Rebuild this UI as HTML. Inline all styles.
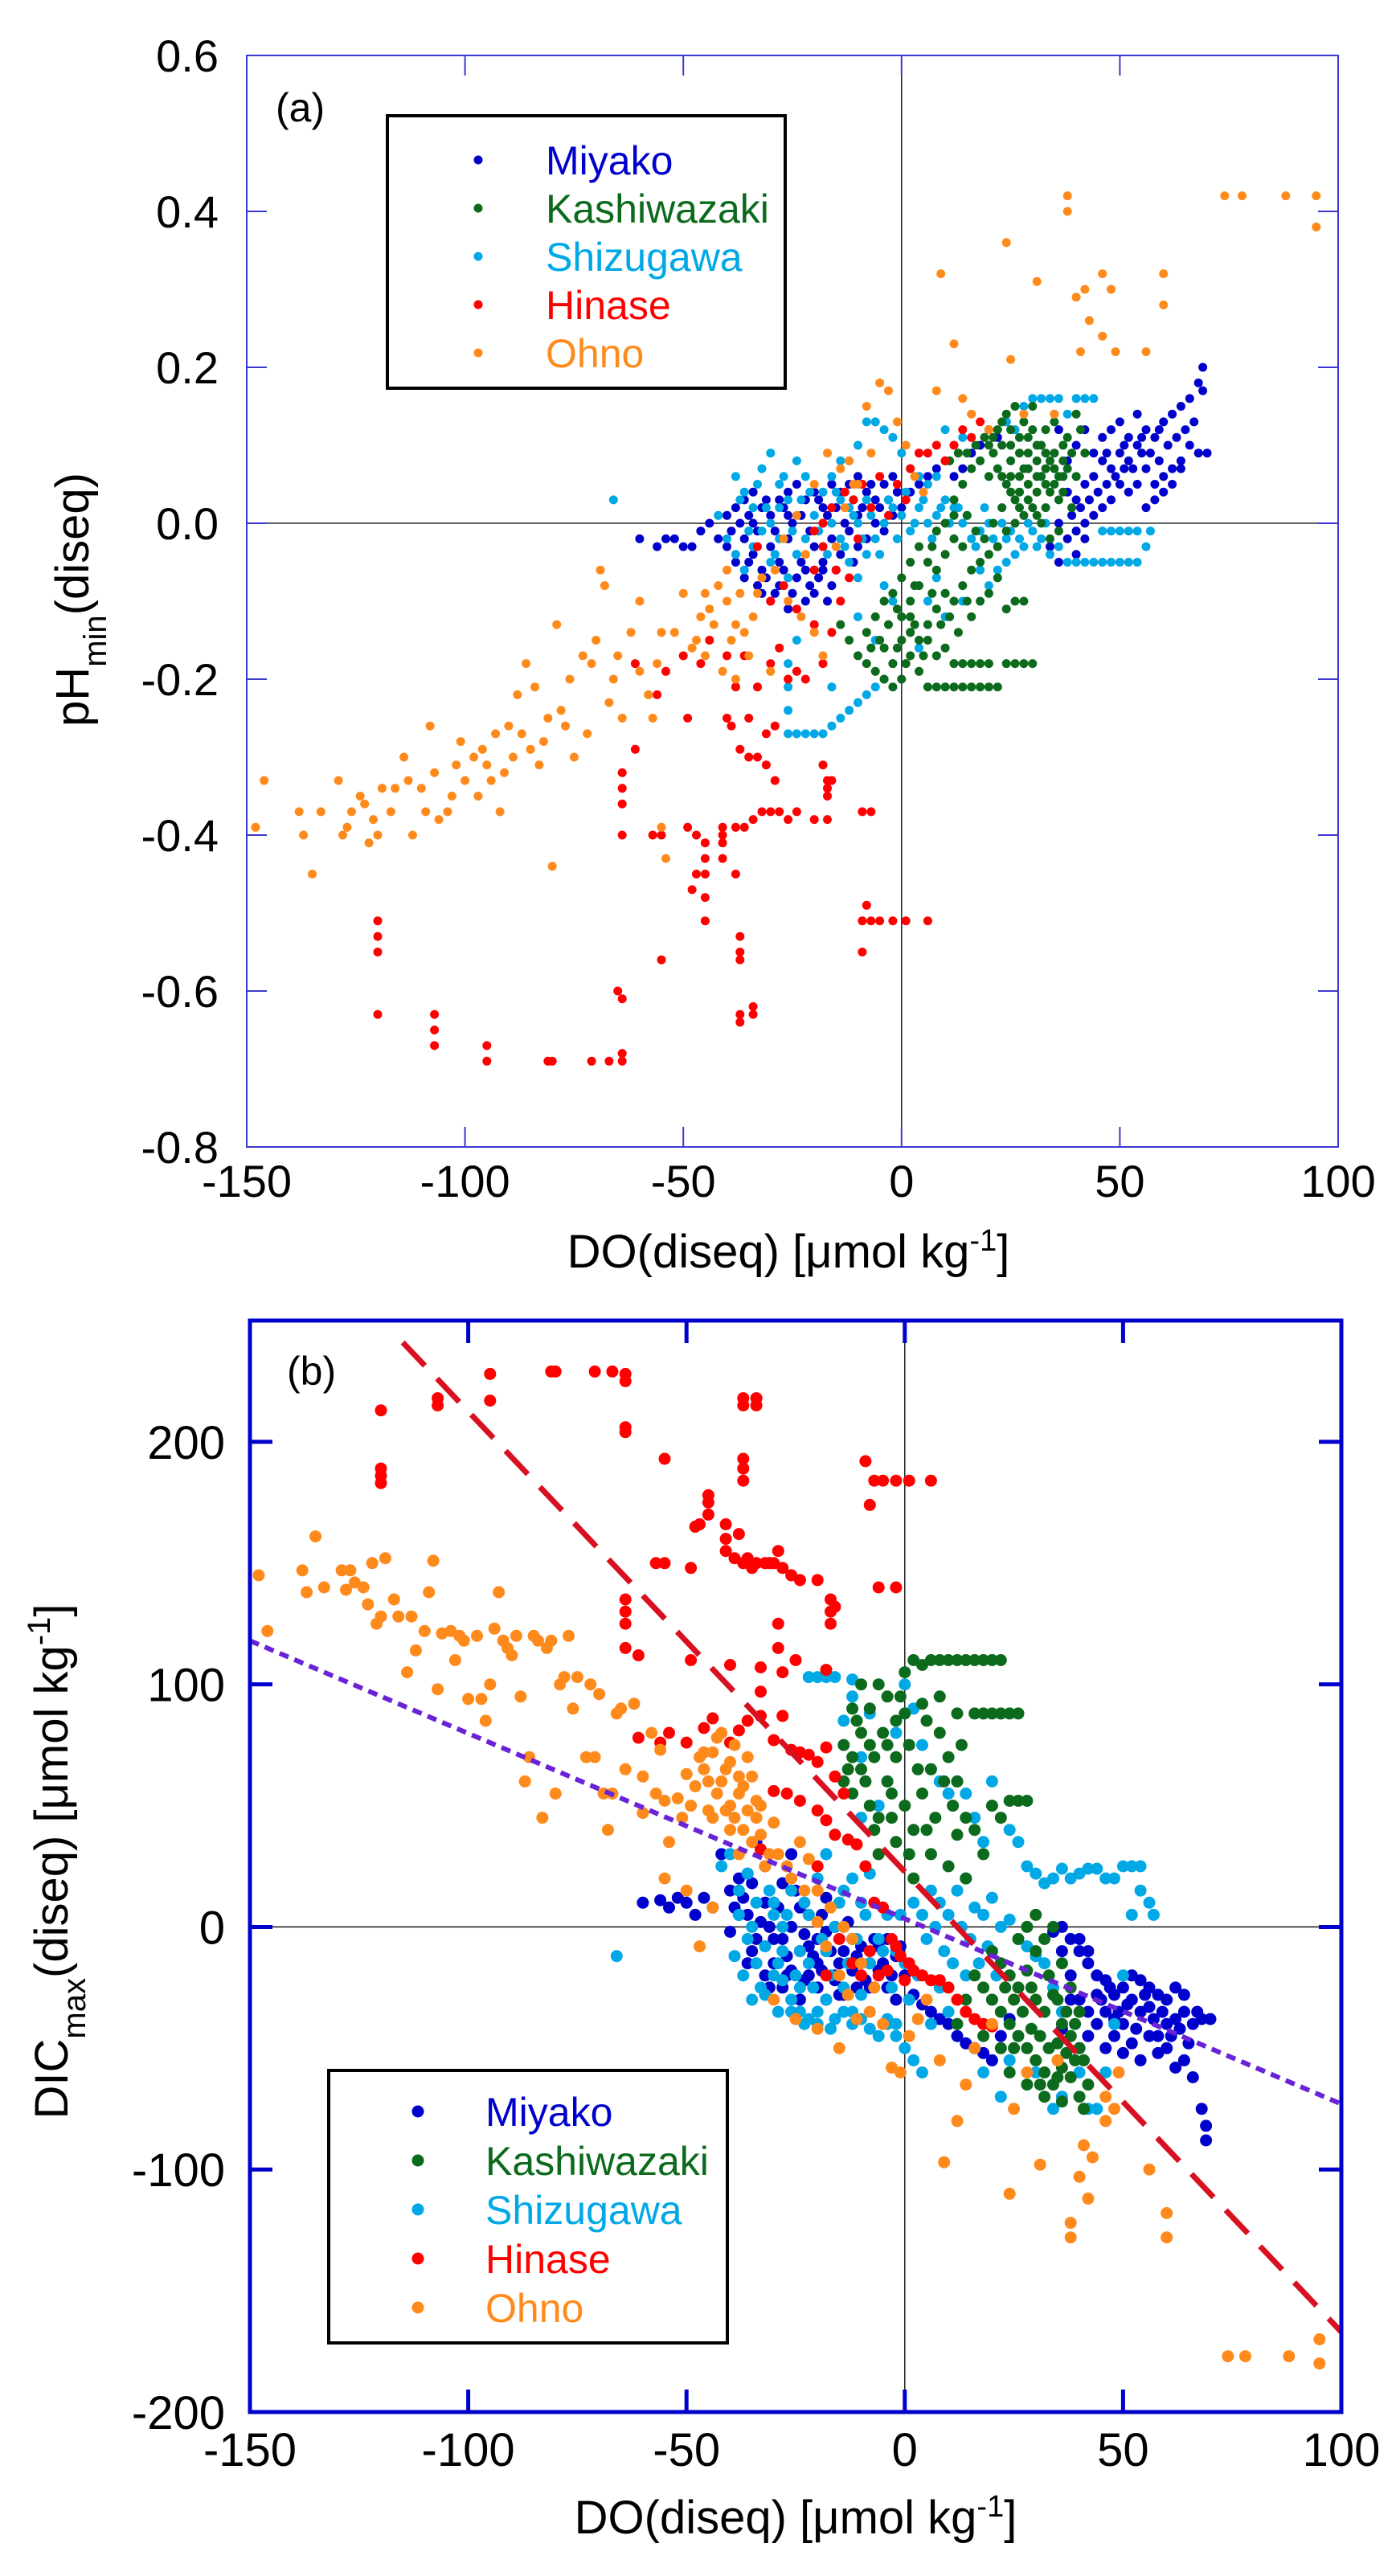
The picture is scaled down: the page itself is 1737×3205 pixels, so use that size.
<!DOCTYPE html>
<html><head><meta charset="utf-8"><style>
html,body{margin:0;padding:0;background:#fff;}
svg{display:block;font-family:"Liberation Sans",Arial,sans-serif;}
</style></head><body>
<svg id="fig" width="1737" height="3205" viewBox="0 0 1737 3205" xmlns="http://www.w3.org/2000/svg"></svg>
<script>
// ---------- Panel (a) data: [DO, pHmin] ----------
const aMiyako=[[-60,-0.02],[-56,-0.03],[-54,-0.02],[-52,-0.02],[-50,-0.03],[-48,-0.03],[-46,-0.01],[-44,0.00],[-42,-0.02],[-40,0.01],[-38,0.02],[-36,0.03],[-34,0.04],[-32,0.02],[-30,0.01],[-28,0.03],[-26,0.04],[-24,0.05],[-22,0.03],[-20,0.04],[-18,0.02],[-16,0.05],[-14,0.04],[-12,0.05],[-10,0.06],[-8,0.04],[-6,0.03],[-4,0.05],[-2,0.06],[-40,-0.03],[-38,-0.05],[-36,-0.02],[-34,-0.04],[-32,-0.06],[-30,-0.03],[-28,-0.05],[-26,-0.02],[-24,-0.04],[-22,-0.06],[-20,-0.03],[-18,-0.05],[-16,-0.02],[-14,-0.04],[-12,-0.01],[-10,-0.03],[-8,-0.02],[-6,0.00],[-4,-0.01],[-2,0.01],[0,0.02],[-36,-0.07],[-32,-0.09],[-28,-0.08],[-24,-0.07],[-20,-0.09],[-16,-0.08],[-30,-0.10],[-26,-0.11],[-22,-0.10],[-18,-0.06],[-34,0.00],[-26,0.01],[-18,0.00],[-10,0.01],[2,0.04],[4,0.05],[6,0.06],[8,0.07],[10,0.08],[12,0.06],[14,0.07],[16,0.09],[18,0.10],[20,0.12],[22,0.11],[24,0.13],[38,0.04],[40,0.03],[42,0.05],[44,0.06],[46,0.08],[48,0.07],[50,0.09],[52,0.08],[54,0.10],[56,0.12],[58,0.11],[60,0.13],[62,0.14],[64,0.15],[66,0.16],[68,0.18],[69,0.20],[69,0.17],[70,0.09],[68,0.09],[66,0.10],[64,0.08],[62,0.07],[60,0.06],[58,0.05],[56,0.07],[54,0.05],[52,0.04],[50,0.05],[48,0.03],[46,0.02],[44,0.01],[42,0.00],[40,-0.01],[38,-0.02],[36,0.00],[44,0.09],[46,0.11],[48,0.12],[50,0.13],[52,0.11],[54,0.14],[42,0.12],[40,0.10],[38,0.08],[36,0.12],[56,0.02],[58,0.03],[60,0.04],[62,0.05],[64,0.07],[40,-0.04],[42,-0.02],[36,-0.05],[34,-0.03],
[-39,-0.01],[-37,0.00],[-35,0.01],[-33,-0.01],[-31,0.03],[-29,-0.01],[-27,0.02],[-25,0.00],[-23,0.01],[-21,-0.01],[-19,0.03],[-17,0.01],[-15,0.02],[-13,0.00],[-11,0.03],[-9,0.02],[-7,0.05],[-5,0.02],[-3,0.03],[-1,0.04],[-35,-0.05],[-31,-0.07],[-27,-0.06],[-23,-0.05],[-19,-0.07],[-15,-0.06],[-11,-0.05],[-33,-0.08],[-29,-0.09],[-25,-0.09],[-21,-0.08],[-17,-0.10],[45,0.04],[47,0.05],[49,0.06],[51,0.07],[53,0.07],[55,0.09],[57,0.09],[59,0.08],[61,0.10],[63,0.11],[65,0.12],[67,0.13],[43,0.03],[41,0.02],[39,0.01],[47,0.09],[51,0.10],[55,0.11],[59,0.12]];
const aKashiwazaki=[[20,0.10],[22,0.12],[24,0.14],[26,0.15],[28,0.13],[30,0.12],[32,0.10],[34,0.08],[36,0.06],[38,0.11],[40,0.14],[41,0.12],[42,0.09],[25,0.08],[27,0.06],[29,0.05],[31,0.04],[33,0.07],[35,0.09],[37,0.04],[39,0.02],[26,0.03],[28,0.01],[30,0.02],[32,0.00],[34,-0.02],[36,-0.01],[24,0.05],[22,0.07],[20,0.06],[18,0.08],[16,0.07],[14,0.05],[12,0.03],[23,0.02],[21,0.00],[19,-0.02],[17,-0.01],[15,0.01],[27,0.11],[29,0.09],[31,0.08],[33,0.12],[35,0.13],[37,0.10],[30,0.15],[40,0.06],[38,0.07],[36,0.03],[25,0.12],[23,0.10],[21,0.09],[19,0.11],[17,0.10],[15,0.09],[13,0.09],[11,0.08],[28,0.07],[32,0.06],[34,0.04],[26,0.00],[24,-0.01],[22,-0.03],[20,-0.04],[18,-0.05],[16,-0.06],[-8,-0.14],[-6,-0.12],[-4,-0.16],[-2,-0.18],[0,-0.20],[2,-0.17],[4,-0.15],[6,-0.13],[8,-0.11],[10,-0.09],[12,-0.10],[14,-0.08],[16,-0.12],[18,-0.10],[20,-0.09],[22,-0.07],[24,-0.11],[26,-0.10],[28,-0.10],[-10,-0.17],[-12,-0.15],[-14,-0.13],[-6,-0.19],[-4,-0.20],[-2,-0.21],[0,-0.15],[2,-0.12],[4,-0.19],[6,-0.21],[8,-0.21],[10,-0.21],[12,-0.21],[14,-0.21],[16,-0.21],[18,-0.21],[20,-0.21],[22,-0.21],[24,-0.18],[26,-0.18],[28,-0.18],[30,-0.18],[12,-0.18],[14,-0.18],[16,-0.18],[18,-0.18],[20,-0.18],[10,-0.16],[8,-0.17],[6,-0.05],[8,-0.06],[4,-0.08],[2,-0.10],[0,-0.07],[-2,-0.09],[-4,-0.10],[10,-0.04],[12,-0.02],[14,-0.03],[6,-0.15],[2,-0.14],[-8,-0.18],[0,-0.12],[4,-0.03],[8,-0.01],[10,0.00],[12,0.01],[2,-0.05],
[21,0.11],[23,0.13],[25,0.10],[27,0.09],[29,0.11],[31,0.10],[33,0.09],[35,0.07],[37,0.08],[39,0.09],[25,0.06],[27,0.04],[29,0.07],[31,0.06],[33,0.05],[35,0.05],[37,0.06],[29,0.03],[31,0.01],[33,0.02],[27,0.02],[25,0.04],[23,0.06],[-5,-0.15],[-3,-0.13],[-1,-0.16],[1,-0.18],[3,-0.13],[5,-0.17],[7,-0.09],[9,-0.13],[11,-0.12],[13,-0.14],[15,-0.10],[-7,-0.16],[-1,-0.11],[3,-0.08],[7,-0.03]];
const aShizugawa=[[-66,0.03],[-42,0.01],[-40,-0.02],[-38,0.06],[-36,0.04],[-34,0.02],[-32,0.07],[-30,0.09],[-28,0.05],[-26,0.03],[-24,0.08],[-22,0.06],[-20,0.01],[-38,-0.04],[-36,-0.06],[-34,-0.03],[-32,-0.01],[-30,-0.05],[-28,-0.02],[-26,-0.07],[-24,-0.04],[-22,-0.02],[-20,-0.06],[-18,-0.03],[-16,0.00],[-14,-0.02],[-12,-0.05],[-10,-0.07],[-8,-0.04],[-6,-0.02],[-4,0.00],[-2,0.02],[0,0.01],[2,-0.01],[4,0.02],[6,0.00],[8,0.01],[10,0.03],[12,0.02],[14,0.00],[16,-0.02],[18,-0.01],[20,0.00],[22,-0.03],[24,-0.02],[26,-0.04],[28,-0.03],[30,-0.01],[32,-0.02],[34,-0.04],[36,-0.03],[38,-0.05],[40,-0.05],[42,-0.05],[44,-0.05],[46,-0.05],[48,-0.05],[50,-0.05],[52,-0.05],[54,-0.05],[56,-0.03],[57,-0.01],[46,-0.01],[48,-0.01],[50,-0.01],[52,-0.01],[54,-0.01],[-6,0.13],[-4,0.12],[-2,0.11],[0,0.09],[2,0.07],[4,0.06],[-10,0.10],[-14,0.08],[-8,0.13],[-12,0.08],[10,0.12],[12,0.10],[14,0.11],[28,0.15],[30,0.16],[32,0.16],[34,0.16],[36,0.16],[38,0.14],[40,0.16],[42,0.16],[44,0.16],[24,0.13],[26,0.12],[-4,-0.08],[-2,-0.10],[0,-0.12],[2,-0.14],[4,-0.16],[-2,-0.18],[-4,-0.20],[-6,-0.21],[-8,-0.22],[-10,-0.23],[-12,-0.24],[-14,-0.25],[-16,-0.26],[-18,-0.27],[-20,-0.27],[-22,-0.27],[-24,-0.27],[-26,-0.27],[-26,-0.24],[-26,-0.21],[-26,-0.18],[-24,-0.15],[-16,-0.21],[-10,-0.12],[-6,-0.15],[6,-0.10],[8,-0.07],[10,-0.12],[14,-0.10],[18,-0.06],[20,-0.08],[22,-0.06],[24,-0.05],[-28,0.02],[-30,0.00],[-18,0.04],[-16,0.06],[-14,0.03],[-12,0.02],[-10,0.00],[-8,0.03],[6,0.05],[8,0.06],
[-37,0.03],[-35,-0.01],[-33,0.05],[-31,0.02],[-29,-0.04],[-27,0.06],[-25,-0.01],[-23,0.03],[-21,0.04],[-19,-0.01],[-17,-0.04],[-15,0.04],[-13,-0.03],[-11,0.01],[-9,-0.02],[-7,0.01],[-5,-0.04],[-3,0.03],[-1,-0.02],[1,0.04],[3,0.00],[5,0.03],[7,-0.02],[9,0.02],[11,0.00],[13,0.02],[15,0.01],[17,-0.03],[19,0.02],[21,-0.02],[23,0.00],[25,-0.01],[27,-0.02],[29,0.00],[31,-0.03],[33,0.00]];
const aHinase=[[-120,-0.51],[-120,-0.53],[-120,-0.55],[-120,-0.63],[-107,-0.63],[-107,-0.65],[-107,-0.67],[-95,-0.67],[-95,-0.69],[-81,-0.69],[-80,-0.69],[-71,-0.69],[-67,-0.69],[-64,-0.68],[-64,-0.69],[-65,-0.60],[-64,-0.61],[-55,-0.56],[-48,-0.47],[-47,-0.45],[-45,-0.45],[-45,-0.48],[-45,-0.51],[-45,-0.43],[-37,-0.53],[-37,-0.55],[-37,-0.56],[-37,-0.63],[-37,-0.64],[-34,-0.63],[-34,-0.62],[-41,-0.43],[-41,-0.41],[-41,-0.40],[-41,-0.39],[-38,-0.45],[-38,-0.39],[-36,-0.39],[-34,-0.38],[-32,-0.37],[-30,-0.37],[-28,-0.37],[-26,-0.38],[-24,-0.37],[-20,-0.38],[-17,-0.38],[-9,-0.37],[-7,-0.37],[-8,-0.49],[-9,-0.51],[-7,-0.51],[-5,-0.51],[-2,-0.51],[1,-0.51],[6,-0.51],[-9,-0.55],[-64,-0.32],[-64,-0.34],[-64,-0.36],[-64,-0.40],[-61,-0.29],[-57,-0.40],[-55,-0.40],[-49,-0.39],[-47,-0.40],[-45,-0.41],[-39,-0.26],[-37,-0.29],[-35,-0.30],[-33,-0.30],[-31,-0.31],[-31,-0.27],[-29,-0.26],[-35,-0.25],[-40,-0.25],[-49,-0.25],[-29,-0.33],[-18,-0.31],[-17,-0.33],[-17,-0.34],[-17,-0.35],[-16,-0.33],[-61,-0.18],[-56,-0.22],[-54,-0.19],[-50,-0.17],[-46,-0.18],[-44,-0.15],[-40,-0.17],[-38,-0.21],[-36,-0.17],[-33,-0.21],[-30,-0.18],[-28,-0.16],[-26,-0.20],[-24,-0.19],[-22,-0.20],[-20,-0.13],[-18,-0.18],[-16,-0.14],[-14,-0.10],[-30,-0.10],[-27,-0.08],[-24,-0.11],[-20,-0.06],[-18,-0.03],[-16,0.02],[-13,0.04],[-11,0.03],[-9,0.05],[-7,0.02],[-5,0.06],[-3,0.01],[-1,0.05],[1,0.03],[2,0.07],[4,0.09],[6,0.09],[8,0.10],[10,0.08],[12,0.10],[14,0.12],[16,0.11],[18,0.13],[20,0.12],[-18,0.00],[-15,-0.06],[-12,-0.07],[-10,-0.02],[-33,-0.03],[-20,-0.01]];
const aOhno=[[-148,-0.39],[-146,-0.33],[-138,-0.37],[-137,-0.40],[-135,-0.45],[-133,-0.37],[-129,-0.33],[-128,-0.40],[-126,-0.37],[-124,-0.35],[-122,-0.41],[-120,-0.40],[-119,-0.34],[-116,-0.34],[-114,-0.30],[-112,-0.40],[-110,-0.34],[-108,-0.26],[-107,-0.32],[-106,-0.38],[-104,-0.37],[-101,-0.28],[-100,-0.33],[-98,-0.30],[-96,-0.29],[-94,-0.33],[-92,-0.37],[-90,-0.26],[-88,-0.22],[-86,-0.18],[-85,-0.29],[-83,-0.31],[-81,-0.25],[-80,-0.44],[-79,-0.13],[-77,-0.26],[-75,-0.30],[-73,-0.17],[-70,-0.15],[-69,-0.06],[-68,-0.08],[-66,-0.20],[-64,-0.25],[-62,-0.14],[-60,-0.10],[-58,-0.22],[-56,-0.18],[-55,-0.39],[-54,-0.43],[-52,-0.14],[-50,-0.09],[-48,-0.16],[-46,-0.12],[-44,-0.11],[-42,-0.08],[-40,-0.10],[-38,-0.13],[-36,-0.14],[-34,-0.12],[-33,-0.09],[-30,-0.19],[-29,-0.06],[-27,-0.02],[-24,0.01],[-22,-0.04],[-20,0.05],[-17,0.09],[-14,0.07],[-12,0.08],[-10,0.05],[-8,0.15],[-7,0.09],[-5,0.18],[-3,0.17],[-1,0.13],[1,0.10],[3,0.06],[5,0.04],[8,0.17],[9,0.32],[12,0.23],[14,0.16],[16,0.14],[20,0.12],[24,0.36],[25,0.21],[28,0.14],[31,0.31],[35,0.14],[38,0.40],[38,0.42],[40,0.29],[41,0.22],[42,0.30],[43,0.26],[46,0.32],[46,0.24],[48,0.30],[49,0.22],[56,0.22],[60,0.32],[60,0.28],[74,0.42],[78,0.42],[88,0.42],[95,0.42],[95,0.38],[-47,-0.15],[-45,-0.17],[-43,-0.13],[-41,-0.19],[-39,-0.15],[-37,-0.09],[-35,-0.17],[-45,-0.09],[-40,-0.06],[-38,-0.20],[-32,-0.07],[-26,-0.10],[-23,-0.12],[-20,-0.14],[-18,-0.17],[-15,-0.03],[-13,0.02],[-11,0.05],[-55,-0.14],[-57,-0.25],[-60,-0.19],[-65,-0.17],[-67,-0.23],[-71,-0.18],[-72,-0.27],[-76,-0.20],[-78,-0.24],[-82,-0.28],[-84,-0.21],[-87,-0.27],[-89,-0.30],[-91,-0.32],[-93,-0.27],[-95,-0.31],[-97,-0.35],[-102,-0.31],[-103,-0.35],[-109,-0.37],[-113,-0.33],[-117,-0.37],[-121,-0.38],[-123,-0.36],[-127,-0.39]];
// ---------- Panel (b) data: [DO, DICmax] ----------
const bMiyako=[[-60,10],[-56,11],[-54,8],[-52,12],[-50,10],[-48,5],[-46,12],[-44,8],[-42,30],[-40,15],[-38,20],[-36,5],[-34,-5],[-32,10],[-30,-15],[-28,-5],[-26,0],[-24,-10],[-22,5],[-20,-15],[-18,-2],[-16,-20],[-14,-10],[-12,-5],[-10,-20],[-8,-15],[-6,-8],[-4,-25],[-2,-12],[-40,-2],[-38,5],[-36,22],[-34,35],[-32,25],[-30,10],[-28,18],[-26,30],[-24,8],[-22,-20],[-20,-5],[-18,12],[-16,0],[-14,-28],[-12,-18],[-10,-8],[-8,-25],[-6,-18],[-4,-5],[-2,-30],[0,-20],[-36,-15],[-32,-20],[-28,-25],[-24,-30],[-20,-25],[-16,-22],[-30,-5],[-26,-18],[-22,-8],[-18,-30],[2,-28],[4,-32],[6,-35],[8,-38],[10,-40],[12,-45],[14,-48],[16,-50],[18,-52],[20,-55],[22,-45],[24,-38],[38,-5],[40,-10],[42,-15],[44,-20],[46,-22],[48,-28],[50,-25],[52,-30],[54,-35],[56,-33],[58,-28],[60,-40],[62,-38],[64,-35],[66,-40],[68,-38],[69,-88],[69,-82],[70,-38],[68,-75],[66,-62],[64,-55],[62,-58],[60,-50],[58,-52],[56,-45],[54,-55],[52,-48],[50,-52],[48,-45],[46,-50],[44,-40],[42,-35],[40,-30],[38,-20],[36,-10],[44,-28],[46,-35],[48,-38],[50,-40],[52,-20],[54,-22],[42,-45],[40,-50],[38,-30],[36,-42],[56,-25],[58,-45],[60,-30],[62,-25],[64,-28],[40,-5],[42,-10],[36,0],[34,-2],
[-39,8],[-37,12],[-35,18],[-33,2],[-31,0],[-29,8],[-27,-12],[-25,15],[-23,-3],[-21,-12],[-19,5],[-17,-10],[-15,-15],[-13,2],[-11,-12],[-9,-22],[-7,-5],[-5,-15],[-3,-20],[-1,-8],[-35,-10],[-31,-25],[-27,-20],[-23,-22],[-19,-18],[-15,-28],[-11,-25],[45,-30],[47,-25],[49,-35],[51,-32],[53,-42],[55,-28],[57,-38],[59,-35],[61,-45],[63,-42],[65,-48],[67,-35]];
const bKashiwazaki=[[-14,75],[-12,70],[-10,80],[-8,90],[-6,100],[-4,95],[-2,85],[0,105],[2,110],[4,108],[6,110],[8,110],[10,110],[12,110],[14,110],[16,110],[18,110],[20,110],[22,110],[-14,60],[-12,55],[-10,65],[-8,50],[-6,45],[-4,60],[-2,70],[0,50],[2,40],[4,55],[6,65],[8,80],[10,70],[12,60],[14,45],[16,40],[18,30],[20,50],[22,45],[24,52],[26,52],[28,52],[-4,75],[0,88],[4,92],[8,95],[12,88],[16,88],[18,88],[20,88],[22,88],[24,88],[26,88],[-10,100],[-8,75],[-12,90],[6,30],[10,25],[14,20],[12,38],[2,20],[-2,35],[-6,30],[20,-10],[22,-15],[24,-20],[26,-25],[28,-18],[30,-30],[32,-35],[34,-28],[36,-40],[38,-45],[40,-50],[41,-55],[42,-65],[24,-40],[26,-45],[28,-50],[30,-55],[32,-60],[34,-65],[36,-58],[38,-62],[40,-70],[41,-75],[20,-30],[22,-35],[30,-10],[32,-5],[34,0],[36,-15],[38,-25],[40,-35],[26,-5],[28,0],[30,5],[16,-20],[18,-25],[14,-30],[24,-60],[28,-65],[32,-70],[36,-72],[12,-40],[18,-45],[22,-50],
[-13,65],[-11,85],[-9,60],[-7,70],[-5,80],[-3,55],[-1,95],[1,75],[3,65],[5,85],[7,45],[9,60],[11,50],[13,75],[-7,40],[-3,45],[1,30],[5,40],[25,-30],[27,-35],[29,-42],[31,-45],[33,-50],[35,-48],[37,-52],[39,-40],[23,-25],[25,-50],[29,-25],[33,-20],[35,-30],[37,-35],[31,-65],[35,-62],[39,-55]];
const bShizugawa=[[-66,-12],[-42,25],[-40,30],[-38,5],[-36,-5],[-34,10],[-32,-8],[-30,-20],[-28,0],[-26,15],[-24,-10],[-22,5],[-20,20],[-38,15],[-36,22],[-34,-15],[-32,-28],[-30,5],[-28,-22],[-26,-35],[-24,-25],[-22,-15],[-20,-35],[-18,-10],[-16,0],[-14,-25],[-12,-35],[-10,-28],[-8,-15],[-6,-5],[-4,5],[-2,-10],[0,-15],[2,10],[4,5],[6,15],[8,10],[10,5],[12,15],[14,20],[16,8],[18,5],[20,12],[22,0],[24,3],[26,-5],[28,-8],[30,-12],[32,-15],[34,-25],[36,-35],[38,-45],[40,-60],[42,-75],[44,-75],[46,-60],[48,-40],[50,-20],[52,5],[54,15],[56,10],[57,5],[46,20],[48,20],[50,25],[52,25],[54,25],[-6,50],[-4,60],[-2,80],[0,100],[2,90],[4,75],[-10,70],[-14,85],[-8,88],[-12,95],[10,55],[12,60],[14,55],[28,25],[30,22],[32,18],[34,20],[36,24],[38,20],[40,22],[42,24],[44,24],[24,40],[26,35],[-4,-40],[-2,-45],[0,-50],[2,-55],[4,-60],[-2,-40],[-4,-38],[-6,-45],[-8,-42],[-10,-38],[-12,-40],[-14,-35],[-16,-38],[-18,-30],[-20,-40],[-22,-38],[-24,-35],[-26,-30],[-16,103],[-18,103],[-20,103],[-22,103],[-12,102],[-10,45],[6,-40],[8,-25],[10,-35],[14,-20],[18,-60],[20,-30],[22,-70],[24,-55],[-28,-10],[-30,10],[-18,30],[-16,38],[-14,15],[-12,20],[-10,10],[-8,22],[6,65],[8,60],[30,-60],[34,-75],[36,-70],[20,60],[16,45],[18,35],
[-37,-20],[-35,0],[-33,-25],[-31,15],[-29,-15],[-27,5],[-25,-20],[-23,10],[-21,-25],[-19,-5],[-17,-20],[-15,10],[-13,-15],[-11,-5],[-9,5],[-7,-25],[-5,-10],[-3,-25],[-1,5],[1,-30],[3,-20],[5,-5],[7,0],[9,-10],[11,-15],[13,0],[15,-5],[17,-15],[19,-8],[21,-20],[-39,-12],[-35,-30],[-29,-35],[-23,-40],[-17,-42]];
const bHinase=[[-120,213],[-120,189],[-120,186],[-120,183],[-107,218],[-107,215],[-95,228],[-95,217],[-81,229],[-80,229],[-71,229],[-67,229],[-64,228],[-64,225],[-64,206],[-64,204],[-55,193],[-48,165],[-47,166],[-45,175],[-45,178],[-45,170],[-37,218],[-37,215],[-37,193],[-37,189],[-37,184],[-34,218],[-34,215],[-41,166],[-41,160],[-41,155],[-38,162],[-36,152],[-34,150],[-32,150],[-30,150],[-28,148],[-26,145],[-24,143],[-20,143],[-17,135],[-17,130],[-17,125],[-16,132],[-9,192],[-7,184],[-5,184],[-2,184],[1,184],[6,184],[-8,174],[-6,140],[-2,140],[-64,135],[-64,130],[-64,125],[-64,115],[-61,112],[-57,150],[-55,150],[-49,148],[-39,152],[-37,150],[-35,148],[-31,150],[-29,155],[-29,125],[-29,115],[-33,107],[-40,108],[-49,110],[-18,106],[-61,78],[-56,76],[-54,80],[-50,76],[-46,82],[-44,86],[-40,76],[-38,81],[-36,85],[-33,87],[-30,77],[-28,87],[-26,73],[-24,72],[-22,71],[-20,68],[-18,74],[-16,62],[-14,55],[-30,56],[-27,55],[-24,52],[-20,48],[-18,44],[-16,38],[-13,36],[-11,34],[-9,25],[-7,10],[-5,8],[-3,-5],[-1,-12],[1,-15],[2,-18],[4,-20],[6,-22],[8,-22],[10,-25],[12,-30],[14,-35],[16,-38],[18,-40],[20,-41],[-18,-20],[-15,-5],[-12,-15],[-10,-20],[-33,32],[-20,25],[-4,-18],[-8,-10],[-6,-20],[-2,-8],[0,-22],[-28,105],[-25,110],[-33,97]];
const bOhno=[[-148,145],[-146,122],[-138,147],[-137,138],[-135,161],[-133,140],[-129,147],[-128,139],[-126,142],[-124,140],[-122,150],[-120,128],[-119,152],[-116,128],[-114,105],[-112,114],[-110,122],[-108,151],[-107,98],[-106,121],[-104,122],[-101,118],[-100,94],[-98,120],[-96,85],[-94,123],[-92,118],[-90,112],[-88,95],[-86,70],[-85,120],[-83,45],[-81,118],[-80,55],[-79,100],[-77,120],[-75,103],[-73,70],[-70,96],[-69,55],[-68,40],[-66,88],[-64,65],[-62,92],[-60,47],[-58,80],[-56,73],[-55,52],[-54,35],[-52,53],[-50,63],[-48,58],[-46,72],[-44,45],[-42,80],[-40,50],[-38,55],[-36,48],[-34,52],[-33,38],[-30,43],[-29,30],[-27,25],[-24,35],[-22,28],[-20,15],[-17,8],[-14,0],[-12,-5],[-10,-15],[-8,-35],[-7,-25],[-5,-40],[-3,-58],[-1,-60],[1,-45],[3,-38],[5,-30],[8,-55],[9,-97],[12,-80],[14,-65],[16,-50],[20,-40],[24,-110],[25,-75],[28,-60],[31,-98],[35,-55],[38,-128],[38,-122],[40,-103],[41,-90],[42,-112],[43,-95],[46,-80],[46,-70],[48,-75],[49,-60],[56,-100],[60,-118],[60,-128],[74,-177],[78,-177],[88,-177],[95,-180],[95,-170],[-47,70],[-45,60],[-43,78],[-41,65],[-39,75],[-37,58],[-35,62],[-45,48],[-40,40],[-38,30],[-32,25],[-26,20],[-23,15],[-20,2],[-18,-8],[-15,-20],[-13,-28],[-11,-38],[-55,20],[-57,55],[-60,62],[-65,90],[-67,55],[-71,70],[-72,100],[-76,90],[-78,103],[-82,115],[-84,118],[-87,60],[-89,120],[-91,115],[-93,138],[-95,100],[-97,94],[-102,120],[-103,110],[-109,138],[-113,128],[-117,135],[-121,125],[-123,133],[-127,147],[-44,8],[-47,-8],[-50,15],[-30,-30],[-25,-38],[-20,-42],[-15,-50],
[-46,65],[-44,72],[-42,60],[-40,68],[-38,62],[-36,70],[-34,45],[-43,55],[-41,48],[-39,45],[-37,40],[-35,35],[-33,50],[-31,30],[-49,50],[-51,45]];
const xTicks=[-150,-100,-50,0,50,100];
const aYTicks=[-0.8,-0.6,-0.4,-0.2,0.0,0.2,0.4,0.6];
const aYLabels=["-0.8","-0.6","-0.4","-0.2","0.0","0.2","0.4","0.6"];
const bYTicks=[-200,-100,0,100,200];
const bYLabels=["-200","-100","0","100","200"];
const seriesNames=["Miyako","Kashiwazaki","Shizugawa","Hinase","Ohno"];
const seriesColors=["#0000cc","#0b6a1c","#00a8e6","#ff0000","#ff8a1c"];
const redLineX=[-115,100], redLineY=[241,-167];
const purpleLineX=[-150,100], purpleLineY=[118,-73];
const drawOrder=[0,2,1,3,4];

const NS="http://www.w3.org/2000/svg";
const svg=document.getElementById('fig');
function mk(tag,attrs,parent){const e=document.createElementNS(NS,tag);for(const k in attrs)e.setAttribute(k,attrs[k]);(parent||svg).appendChild(e);return e;}

function panel(cfg){
  const g=mk('g',{});
  
  
  const sx=v=>cfg.L+(v-cfg.xmin)/(cfg.xmax-cfg.xmin)*(cfg.R-cfg.L);
  const sy=v=>cfg.B-(v-cfg.ymin)/(cfg.ymax-cfg.ymin)*(cfg.B-cfg.T);
  const zl=mk('line',{x1:cfg.L,x2:cfg.R,y1:sy(0),y2:sy(0),stroke:'#000','stroke-width':1.3},g);
  
  
  const zv=mk('line',{x1:sx(0),x2:sx(0),y1:cfg.T,y2:cfg.B,stroke:'#000','stroke-width':1.3},g);
  
  
  drawOrder.forEach(k=>{
    const pts=cfg.series[k];
    const sg=mk('g',{fill:seriesColors[k]},g);
    
    
    pts.forEach(p=>{
      const c=mk('circle',{cx:sx(p[0]).toFixed(1),cy:sy(p[1]).toFixed(1),r:cfg.r},sg);
      
      
    });
  });
  if(cfg.lines){
    const l1=mk('line',{x1:sx(redLineX[0]),y1:sy(redLineY[0]),x2:sx(redLineX[1]),y2:sy(redLineY[1]),stroke:'#d81020','stroke-width':7,'stroke-dasharray':'40 22'},g);
    
    
    const l2=mk('line',{x1:sx(purpleLineX[0]),y1:sy(purpleLineY[0]),x2:sx(purpleLineX[1]),y2:sy(purpleLineY[1]),stroke:'#6a22d6','stroke-width':6,'stroke-dasharray':'12 8'},g);
    
    
  }
  const fr=mk('rect',{x:cfg.L,y:cfg.T,width:cfg.R-cfg.L,height:cfg.B-cfg.T,fill:'none',stroke:cfg.frameColor,'stroke-width':cfg.fw},g);
  
  
  xTicks.forEach(t=>{
    const x=sx(t);
    mk('line',{x1:x,x2:x,y1:cfg.B,y2:cfg.B-cfg.tl,stroke:cfg.frameColor,'stroke-width':cfg.fw},g);
    mk('line',{x1:x,x2:x,y1:cfg.T,y2:cfg.T+cfg.tl,stroke:cfg.frameColor,'stroke-width':cfg.fw},g);
    const tx=mk('text',{x:x,y:cfg.xLabBase,'text-anchor':'middle','font-size':cfg.fs,fill:'#000'},g);
    tx.textContent=String(t);
    
    
  });
  cfg.yTicks.forEach((t,i)=>{
    const y=sy(t);
    mk('line',{x1:cfg.L,x2:cfg.L+cfg.tl,y1:y,y2:y,stroke:cfg.frameColor,'stroke-width':cfg.fw},g);
    mk('line',{x1:cfg.R,x2:cfg.R-cfg.tl,y1:y,y2:y,stroke:cfg.frameColor,'stroke-width':cfg.fw},g);
    const ty=mk('text',{x:cfg.yLabRight,y:y+cfg.fs*0.36,'text-anchor':'end','font-size':cfg.fs,fill:'#000'},g);
    ty.textContent=cfg.yLabels[i];
    
    
  });
  const lg=mk('g',{},g);
  
  
  mk('rect',{x:cfg.leg.x,y:cfg.leg.y,width:cfg.leg.w,height:cfg.leg.h,fill:'#fff',stroke:'#000','stroke-width':4},lg);
  seriesNames.forEach((n,i)=>{
    const y=cfg.leg.row0+i*cfg.leg.dy;
    const d=mk('circle',{cx:cfg.leg.dotX,cy:y,r:cfg.r,fill:seriesColors[i]},lg);
    
    
    const t=mk('text',{x:cfg.leg.textX,y:y+18,'font-size':cfg.leg.fs,fill:seriesColors[i]},lg);
    t.textContent=n;
    
    
  });
}

panel({name:'panel-a',L:307,R:1665,T:69,B:1427,xmin:-150,xmax:100,ymin:-0.8,ymax:0.6,r:5.5,frameColor:'#3a3ad0',fw:2,tl:25,fs:56,xLabBase:1489,yLabRight:272,yTicks:aYTicks,yLabels:aYLabels,
  series:[aMiyako,aKashiwazaki,aShizugawa,aHinase,aOhno],
  leg:{x:482,y:144,w:495,h:339,row0:199,dy:60,dotX:595,textX:679,fs:50}});
panel({name:'panel-b',L:311,R:1669,T:1643,B:3001,xmin:-150,xmax:100,ymin:-200,ymax:250,r:7.5,frameColor:'#0000cc',fw:5,tl:28,fs:58,xLabBase:3068,yLabRight:280,yTicks:bYTicks,yLabels:bYLabels,lines:true,
  series:[bMiyako,bKashiwazaki,bShizugawa,bHinase,bOhno],
  leg:{x:409,y:2576,w:496,h:339,row0:2627,dy:61,dotX:520,textX:604,fs:50}});
</script>
<svg style="position:absolute;left:0;top:0" width="1737" height="3205" xmlns="http://www.w3.org/2000/svg" font-family="Liberation Sans, Arial, sans-serif">
  <text x="343" y="151" font-size="50">(a)</text>
  <text x="357" y="1723" font-size="50">(b)</text>
  <text x="981" y="1577" font-size="58" text-anchor="middle">DO(diseq) [μmol kg<tspan baseline-shift="super" font-size="38">-1</tspan>]</text>
  <text x="990" y="3152" font-size="58" text-anchor="middle">DO(diseq) [μmol kg<tspan baseline-shift="super" font-size="38">-1</tspan>]</text>
  <text transform="translate(110,746) rotate(-90)" font-size="58" text-anchor="middle">pH<tspan baseline-shift="sub" font-size="40">min</tspan>(diseq)</text>
  <text transform="translate(84,2316) rotate(-90)" font-size="58" text-anchor="middle">DIC<tspan baseline-shift="sub" font-size="40">max</tspan>(diseq) [μmol kg<tspan baseline-shift="super" font-size="40">-1</tspan>]</text>
</svg>
</body></html>
